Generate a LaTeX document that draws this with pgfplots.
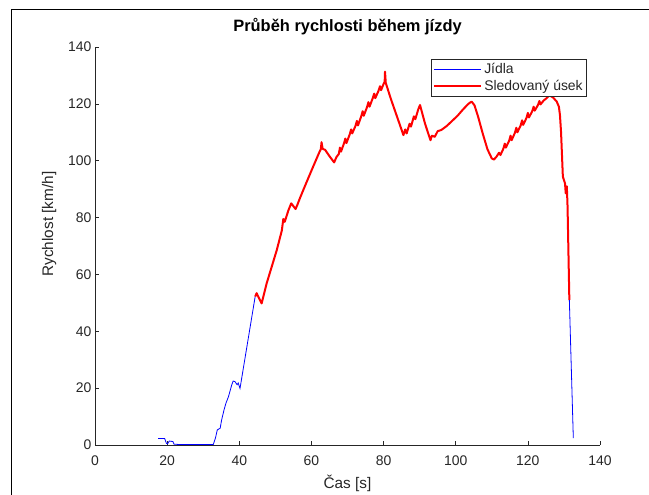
\documentclass[border=0pt]{standalone}
\usepackage{fontspec}
\setmainfont{Liberation Sans}
\usepackage{pgfplots}
\usepackage{pgfplotstable}
\pgfplotsset{compat=1.18}
\definecolor{axgray}{rgb}{0.15,0.15,0.15}

\pgfplotstableread{
x y
17.5 2.3
19.3 2.3
19.8 0.6
20.1 0.4
20.6 1.4
21.6 1.2
21.9 0.3
23.0 0.2
32.8 0.2
33.4 2.5
33.9 5.3
34.7 5.9
35.1 8.8
35.8 12.5
36.3 14.7
37.0 17.0
37.9 21.1
38.3 22.5
38.8 22.3
39.4 21.2
39.7 21.8
40.2 19.9
44.4 52.2
}\bluestart

\pgfplotstableread{
x y
44.4 52.2
44.8 53.4
45.5 51.6
46.2 49.8
47.6 56.9
50.4 68.6
51.8 75.5
52.2 79.5
52.6 78.5
53.6 82.5
54.4 85.0
55.0 84.0
55.6 83.0
56.2 84.8
56.8 86.8
58.5 92.0
60.5 98.0
62.2 103.0
62.6 104.0
62.8 106.5
63.1 104.2
63.8 103.8
65.0 101.6
66.3 99.4
66.9 101.2
67.6 102.4
67.9 104.6
68.2 103.2
69.0 106.0
69.4 107.8
69.7 106.2
70.6 109.2
71.0 111.0
71.3 109.6
72.2 112.2
72.6 114.0
72.9 112.4
73.8 115.6
74.2 117.4
74.5 115.8
75.4 118.8
75.8 120.6
76.1 119.0
77.0 122.0
77.4 123.6
77.7 122.0
78.6 124.6
79.0 126.2
79.3 124.8
80.0 127.0
80.3 127.8
80.4 131.3
80.6 127.4
82.0 121.8
84.0 114.5
85.5 109.0
86.0 111.0
86.4 109.6
87.2 113.0
87.6 112.0
88.4 115.6
88.8 114.6
89.6 118.0
90.1 119.6
91.5 113.0
93.0 107.2
93.4 108.8
94.2 108.4
95.0 110.4
96.0 110.8
97.5 112.2
99.0 114.0
100.5 115.8
102.0 118.0
103.5 120.0
104.4 120.8
105.2 119.5
106.2 115.5
107.5 109.5
108.8 104.0
110.0 100.8
110.6 100.4
111.3 101.4
112.0 102.8
112.4 102.0
113.2 104.2
113.6 106.0
113.9 104.6
114.8 107.0
115.2 108.8
115.5 107.2
116.4 109.8
116.8 111.6
117.1 110.0
118.0 112.4
118.4 114.2
118.7 112.6
119.6 115.0
120.0 116.8
120.3 115.2
121.2 117.4
121.6 119.0
121.9 117.6
122.8 119.6
123.2 121.0
123.5 119.8
124.4 121.2
125.2 122.0
126.0 123.0
127.0 122.2
128.0 120.8
128.6 119.0
128.9 116.0
129.2 110.0
129.7 94.4
130.0 93.2
130.3 92.0
130.5 88.5
130.8 91.0
131.0 84.0
131.5 51.0
}\redseg

\pgfplotstableread{
x y
131.5 51.0
132.6 2.4
}\blueend

\begin{document}
\begin{tikzpicture}[x=1bp,y=1bp]
\useasboundingbox (0,0) rectangle (649,495);
\draw[line width=1bp,black] (11,-5) -- (11,485) -- (655,485);
\begin{axis}[
  at={(95bp,50bp)}, anchor=south west,
  width=505bp, height=398bp, scale only axis,
  xmin=0, xmax=140, ymin=0, ymax=140,
  xtick={0,20,...,140}, ytick={0,20,...,140},
  axis x line=bottom, axis y line=left,
  axis line style={-, draw=axgray, line width=0.6bp},
  tick style={draw=axgray, line width=0.6bp},
  tick align=inside, major tick length=4bp,
  /pgf/number format/assume math mode=true,
  ticklabel style={font=\fontsize{14}{16}\selectfont, text=axgray},
  xticklabel style={yshift=-7bp},
  xlabel={Čas [s]}, ylabel={Rychlost [km/h]},
  label style={font=\fontsize{15.4}{18}\selectfont, text=axgray},
  xlabel style={at={([yshift=-44bp]axis description cs:0.5,0)}, anchor=base},
  ylabel style={at={([xshift=-42bp,yshift=22bp]axis description cs:0,0.5)}, anchor=base},
  title={Průběh rychlosti během jízdy},
  title style={at={([yshift=10bp]axis description cs:0.5,1)}, anchor=base, font=\bfseries\fontsize{16.5}{19}\selectfont, text=black},
  legend style={at={(axis description cs:0.9743,0.9698)}, anchor=north east,
    draw=axgray, line width=0.6bp, font=\fontsize{14}{16}\selectfont, text=black!85,
    inner xsep=2bp, inner ysep=2bp, row sep=1bp},
  legend cell align=left,
  legend image code/.code={\draw[#1] (0bp,0bp) -- (47bp,0bp);},
  clip=false,
]
\addplot[blue, line width=0.8bp] table[x=x,y=y] {\bluestart};
\addlegendentry{Jídla}
\addplot[red, line width=2bp, line join=round] table[x=x,y=y] {\redseg};
\addlegendentry{Sledovaný úsek}
\addplot[blue, line width=0.8bp, forget plot] table[x=x,y=y] {\blueend};
\end{axis}
\end{tikzpicture}
\end{document}
